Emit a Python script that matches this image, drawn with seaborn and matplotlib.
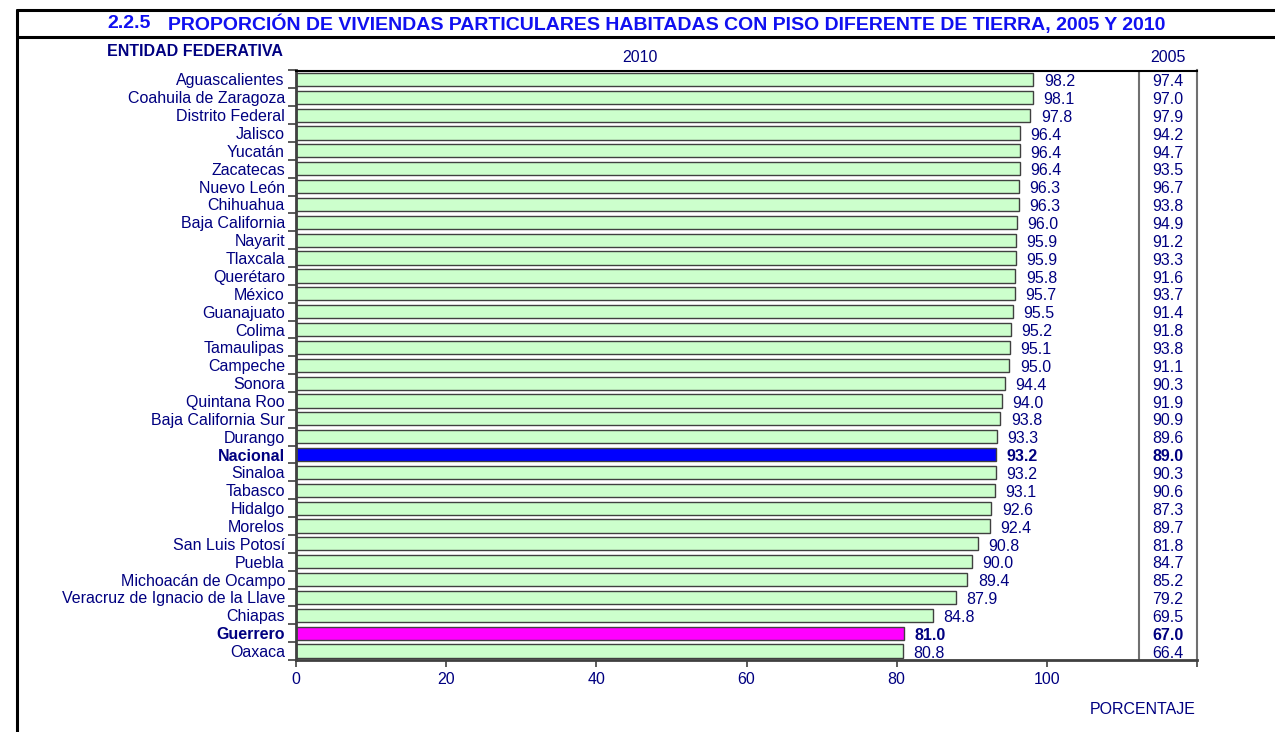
import matplotlib
matplotlib.use("Agg")
import matplotlib.pyplot as plt
from matplotlib.lines import Line2D
import seaborn as sns
import pandas as pd
import numpy as np

entidades = ["Aguascalientes", "Coahuila de Zaragoza", "Distrito Federal", "Jalisco", "Yucatán",
             "Zacatecas", "Nuevo León", "Chihuahua", "Baja California", "Nayarit", "Tlaxcala",
             "Querétaro", "México", "Guanajuato", "Colima", "Tamaulipas", "Campeche", "Sonora",
             "Quintana Roo", "Baja California Sur", "Durango", "Nacional", "Sinaloa", "Tabasco",
             "Hidalgo", "Morelos", "San Luis Potosí", "Puebla", "Michoacán de Ocampo",
             "Veracruz de Ignacio de la Llave", "Chiapas", "Guerrero", "Oaxaca"]
valores_2010 = [98.2, 98.1, 97.8, 96.4, 96.4, 96.4, 96.3, 96.3, 96.0, 95.9, 95.9, 95.8, 95.7,
                95.5, 95.2, 95.1, 95.0, 94.4, 94.0, 93.8, 93.3, 93.2, 93.2, 93.1, 92.6, 92.4,
                90.8, 90.0, 89.4, 87.9, 84.8, 81.0, 80.8]
valores_2005 = [97.4, 97.0, 97.9, 94.2, 94.7, 93.5, 96.7, 93.8, 94.9, 91.2, 93.3, 91.6, 93.7,
                91.4, 91.8, 93.8, 91.1, 90.3, 91.9, 90.9, 89.6, 89.0, 90.3, 90.6, 87.3, 89.7,
                81.8, 84.7, 85.2, 79.2, 69.5, 67.0, 66.4]
x_ticks = [0, 20, 40, 60, 80, 100, 120]
x_ticklabels = ["0", "20", "40", "60", "80", "100", ""]
destacados = {"Nacional": "#0000FF", "Guerrero": "#FF00FF"}

NAVY = "#000080"
TITLE_BLUE = "#1010F0"
FS = 11.5

sns.set_theme(style="white")
plt.rcParams['font.family'] = ['Liberation Sans', 'DejaVu Sans']

df = pd.DataFrame({"entidad": entidades, "v2010": valores_2010, "v2005": valores_2005})
palette = {e: destacados.get(e, "#CCFFCC") for e in entidades}

fig = plt.figure(figsize=(12.75, 7.32), dpi=100)
ax = fig.add_axes([296 / 1275, 1 - 660 / 732, (1197 - 296) / 1275, (660 - 70.5) / 732])

sns.barplot(data=df, x="v2010", y="entidad", hue="entidad", palette=palette, legend=False,
            edgecolor="#404040", linewidth=1.0, width=0.74, orient="h", saturation=1, ax=ax)

ax.set_xlim(0, 120)
ax.set_ylim(len(entidades) - 0.5, -0.5)
ax.set_xlabel("")
ax.set_ylabel("")

# x ticks
ax.set_xticks(x_ticks)
ax.set_xticklabels(x_ticklabels, color=NAVY, fontsize=FS)
ax.tick_params(axis="x", direction="out", length=5, width=1.2, color="#404040", pad=4, bottom=True)

# y ticks: marks at boundaries, labels at centres
ax.set_yticks(np.arange(-0.5, len(entidades), 1))
ax.set_yticklabels([])
ax.set_yticks(np.arange(len(entidades)), minor=True)
ax.set_yticklabels(entidades, minor=True)
ax.tick_params(axis="y", which="major", direction="out", length=6, width=1.2, color="#404040", left=True)
ax.tick_params(axis="y", which="minor", length=0, pad=8, labelsize=FS, labelcolor=NAVY)
for lab in ax.get_yticklabels(minor=True):
    if lab.get_text() in destacados:
        lab.set_fontweight("bold")

for s in ["left", "bottom"]:
    ax.spines[s].set_color("#404040")
    ax.spines[s].set_linewidth(2)
ax.spines["top"].set_color("black")
ax.spines["top"].set_linewidth(1.5)
ax.spines["right"].set_color("#707070")
ax.spines["right"].set_linewidth(1.5)

ax.axvline(112.3, color="#707070", lw=1.5)

for i, (e, v10, v05) in enumerate(zip(entidades, valores_2010, valores_2005)):
    w = "bold" if e in destacados else "normal"
    ax.text(v10 + 1.4, i + 0.12, f"{v10:.1f}", va="center", ha="left", color=NAVY,
            fontsize=FS, fontweight=w)
    ax.text(116.1, i + 0.12, f"{v05:.1f}", va="center", ha="center", color=NAVY,
            fontsize=FS, fontweight=w)

# frame lines
fig.add_artist(Line2D([17 / 1275, 17 / 1275], [0, 1 - 10 / 732], transform=fig.transFigure,
                      color="black", lw=2.2))
fig.add_artist(Line2D([17 / 1275, 1], [1 - 10 / 732, 1 - 10 / 732], transform=fig.transFigure,
                      color="black", lw=2.2))
fig.add_artist(Line2D([17 / 1275, 1], [1 - 37 / 732, 1 - 37 / 732], transform=fig.transFigure,
                      color="black", lw=2.2))

fig.text(107 / 1275, 1 - 24 / 732, "2.2.5", ha="left", va="center", color=TITLE_BLUE,
         fontsize=14, fontweight="bold")
fig.text(168 / 1275, 1 - 24 / 732,
         "PROPORCIÓN DE VIVIENDAS PARTICULARES HABITADAS CON PISO DIFERENTE DE TIERRA, 2005 Y 2010",
         ha="left", va="center", color=TITLE_BLUE, fontsize=14, fontweight="bold")
fig.text(107 / 1275, 1 - 52 / 732, "ENTIDAD FEDERATIVA", ha="left", va="center", color=NAVY,
         fontsize=FS, fontweight="bold")
fig.text(640 / 1275, 1 - 58 / 732, "2010", ha="center", va="center", color=NAVY, fontsize=FS)
fig.text(1168 / 1275, 1 - 58 / 732, "2005", ha="center", va="center", color=NAVY, fontsize=FS)
fig.text(1196 / 1275, 1 - 710 / 732, "PORCENTAJE", ha="right", va="center", color=NAVY, fontsize=FS)

fig.savefig("out.png", dpi=100)
